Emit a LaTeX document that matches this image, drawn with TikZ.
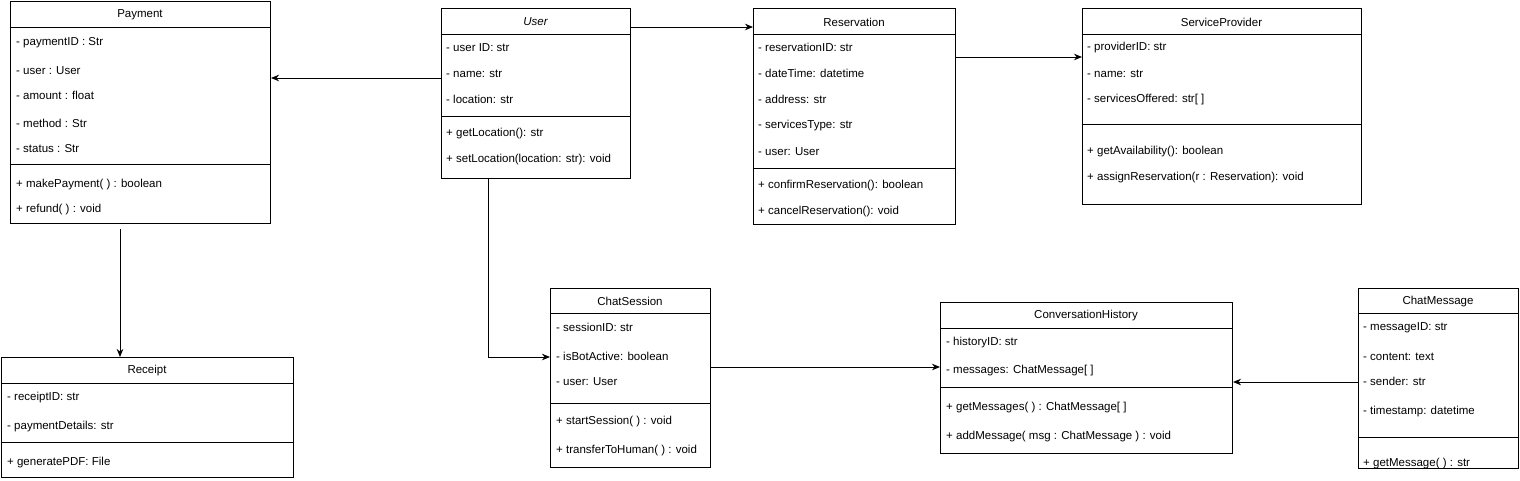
\documentclass[tikz,border=0pt]{standalone}
\usepackage{fontspec}
\setmainfont{Liberation Sans}
\usetikzlibrary{arrows.meta}
\newcommand\fs{\fontsize{11.5}{13}\selectfont}
\begin{document}
\begin{tikzpicture}[x=1pt,y=-1pt,
  box/.style={draw, line width=1pt, anchor=north west, inner sep=0pt, fill=white},
  sepline/.style={line width=1pt},
  attr/.style={anchor=west, inner sep=0pt, font=\fs, yshift=-1.5pt},
  ttl/.style={inner sep=0pt, font=\fs, yshift=-1pt},
  arr/.style={line width=1pt, -{Stealth[length=8pt,width=6.5pt,inset=2.5pt]}}]
\useasboundingbox (0,0) rectangle (1520,480);
\fill[white] (0,0) rectangle (1520,480);

% Payment
\node[box, minimum width=260pt, minimum height=222pt] (pay) at (10,1) {};
\draw[sepline] (10,27) -- (270,27);
\draw[sepline] (10,164) -- (270,164);
\node[ttl] (payT) at (140,14) {Payment};
\node[attr] (pay1) at (16,41) {- paymentID : Str};
\node[attr] (pay2) at (16,69) {- user : User};
\node[attr] (pay3) at (16,94) {- amount : float};
\node[attr] (pay4) at (16,122) {- method : Str};
\node[attr] (pay5) at (16,147) {- status : Str};
\node[attr] (pay6) at (16,183) {+ makePayment( ) : boolean};
\node[attr] (pay7) at (16,208) {+ refund( ) : void};

% User
\node[box, minimum width=189pt, minimum height=170pt] (user) at (441,8) {};
\draw[sepline] (441,34) -- (630,34);
\draw[sepline] (441,116) -- (630,116);
\node[ttl, font=\fs\itshape] (userT) at (535.5,21) {User};
\node[attr] (user1) at (446,46) {- user ID: str};
\node[attr] (user2) at (446,72) {- name: str};
\node[attr] (user3) at (446,98) {- location: str};
\node[attr] (user4) at (446,132) {+ getLocation(): str};
\node[attr] (user5) at (446,158) {+ setLocation(location: str): void};

% Reservation
\node[box, minimum width=202pt, minimum height=216pt] (res) at (753,8) {};
\draw[sepline] (753,34) -- (955,34);
\draw[sepline] (753,168) -- (955,168);
\node[ttl] (resT) at (854,21) {Reservation};
\node[attr] (res1) at (758,46) {- reservationID: str};
\node[attr] (res2) at (758,72) {- dateTime: datetime};
\node[attr] (res3) at (758,98) {- address: str};
\node[attr] (res4) at (758,124) {- servicesType: str};
\node[attr] (res5) at (758,150) {- user: User};
\node[attr] (res6) at (758,184) {+ confirmReservation(): boolean};
\node[attr] (res7) at (758,210) {+ cancelReservation(): void};

% ServiceProvider
\node[box, minimum width=279pt, minimum height=196pt] (sp) at (1082,8) {};
\draw[sepline] (1082,34) -- (1361,34);
\draw[sepline] (1082,124) -- (1361,124);
\node[ttl] (spT) at (1221.5,21) {ServiceProvider};
\node[attr] (sp1) at (1087,46) {- providerID: str};
\node[attr] (sp2) at (1087,72) {- name: str};
\node[attr] (sp3) at (1087,98) {- servicesOffered: str[ ]};
\node[attr] (sp4) at (1087,150) {+ getAvailability(): boolean};
\node[attr] (sp5) at (1087,176) {+ assignReservation(r : Reservation): void};

% Receipt
\node[box, minimum width=292pt, minimum height=120pt] (rec) at (1,357) {};
\draw[sepline] (1,383) -- (293,383);
\draw[sepline] (1,442) -- (293,442);
\node[ttl] (recT) at (147,370) {Receipt};
\node[attr] (rec1) at (7,396) {- receiptID: str};
\node[attr] (rec2) at (7,425) {- paymentDetails: str};
\node[attr] (rec3) at (7,461) {+ generatePDF: File};

% ChatSession
\node[box, minimum width=160pt, minimum height=179pt] (cs) at (550,288) {};
\draw[sepline] (550,313) -- (710,313);
\draw[sepline] (550,403) -- (710,403);
\node[ttl] (csT) at (630,300.5) {ChatSession};
\node[attr] (cs1) at (556,326) {- sessionID: str};
\node[attr] (cs2) at (556,355) {- isBotActive: boolean};
\node[attr] (cs3) at (556,380) {- user: User};
\node[attr] (cs4) at (556,420) {+ startSession( ) : void};
\node[attr] (cs5) at (556,449) {+ transferToHuman( ) : void};

% ConversationHistory
\node[box, minimum width=292pt, minimum height=151pt] (ch) at (940,302) {};
\draw[sepline] (940,328) -- (1232,328);
\draw[sepline] (940,387) -- (1232,387);
\node[ttl] (chT) at (1086,315) {ConversationHistory};
\node[attr] (ch1) at (946,341) {- historyID: str};
\node[attr] (ch2) at (946,369) {- messages: ChatMessage[ ]};
\node[attr] (ch3) at (946,406) {+ getMessages( ) : ChatMessage[ ]};
\node[attr] (ch4) at (946,435) {+ addMessage( msg : ChatMessage ) : void};

% ChatMessage
\node[box, minimum width=160pt, minimum height=180pt] (cm) at (1358,288) {};
\draw[sepline] (1358,313) -- (1518,313);
\draw[sepline] (1358,437) -- (1518,437);
\node[ttl] (cmT) at (1438,300.5) {ChatMessage};
\node[attr] (cm1) at (1363,326) {- messageID: str};
\node[attr] (cm2) at (1363,355) {- content: text};
\node[attr] (cm3) at (1363,380) {- sender: str};
\node[attr] (cm4) at (1363,410) {- timestamp: datetime};
\node[attr] (cm5) at (1363,462) {+ getMessage( ) : str};

% helper coordinates
\coordinate (y27) at (0,27);
\coordinate (y57) at (0,57);
\coordinate (y78) at (0,78);
\coordinate (y357) at (0,357);
\coordinate (y367) at (0,367);
\coordinate (y382) at (0,382);
\coordinate (x120) at (120,0);
\coordinate (x488) at (488,0);

% connectors
\draw[arr] (user.west |- y78) -- (pay.east |- y78);
\draw[arr] (user.east |- y27) -- (res.west |- y27);
\draw[arr] (res.east |- y57) -- (sp.west |- y57);
\draw[arr, shorten <=5pt] (x120 |- pay.south) -- (x120 |- rec.north);
\draw[arr] (x488 |- user.south) -- (x488 |- y357) -- (cs.west |- y357);
\draw[arr] (cs.east |- y367) -- (ch.west |- y367);
\draw[arr] (cm.west |- y382) -- (ch.east |- y382);
\end{tikzpicture}
\end{document}
